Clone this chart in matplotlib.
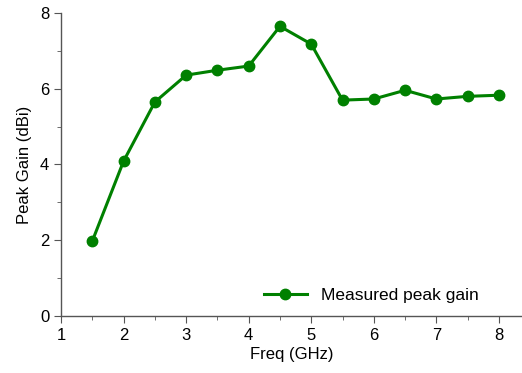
import matplotlib
matplotlib.use('Agg')
import matplotlib.pyplot as plt
from matplotlib.ticker import MultipleLocator

plt.rcParams['font.family'] = 'Liberation Sans'

# Measured peak gain vs frequency
freq = [1.5, 2, 2.5, 3, 3.5, 4, 4.5, 5, 5.5, 6, 6.5, 7, 7.5, 8]
gain = [1.98, 4.09, 5.65, 6.36, 6.49, 6.6, 7.65, 7.18, 5.7, 5.73, 5.96, 5.73, 5.8, 5.83]

fig = plt.figure(figsize=(5.22, 3.73), dpi=100)
ax = fig.add_axes([0.117, 0.153, 0.883, 0.812])

ax.plot(freq, gain, '-o', color='#008000', lw=2.2, ms=7.5, label='Measured peak gain')

ax.set_xlim(1, 8.37)
ax.set_ylim(0, 8)
ax.xaxis.set_major_locator(MultipleLocator(1))
ax.xaxis.set_minor_locator(MultipleLocator(0.5))
ax.yaxis.set_major_locator(MultipleLocator(2))
ax.yaxis.set_minor_locator(MultipleLocator(1))

for s in ['top', 'right']:
    ax.spines[s].set_visible(False)
for s in ['left', 'bottom']:
    ax.spines[s].set_color('#555555')
    ax.spines[s].set_linewidth(1.0)

ax.tick_params(which='both', direction='out', colors='#555555', labelcolor='black', labelsize=12)
ax.tick_params(which='major', length=5)
ax.tick_params(which='minor', length=3)

ax.set_xlabel('Freq (GHz)', fontsize=12, labelpad=3)
ax.set_ylabel('Peak Gain (dBi)', fontsize=12, labelpad=6)

ax.legend(loc='lower right', frameon=False, fontsize=12.5, bbox_to_anchor=(0.94, -0.01), handlelength=2.5)

fig.savefig('out.png', dpi=100)
